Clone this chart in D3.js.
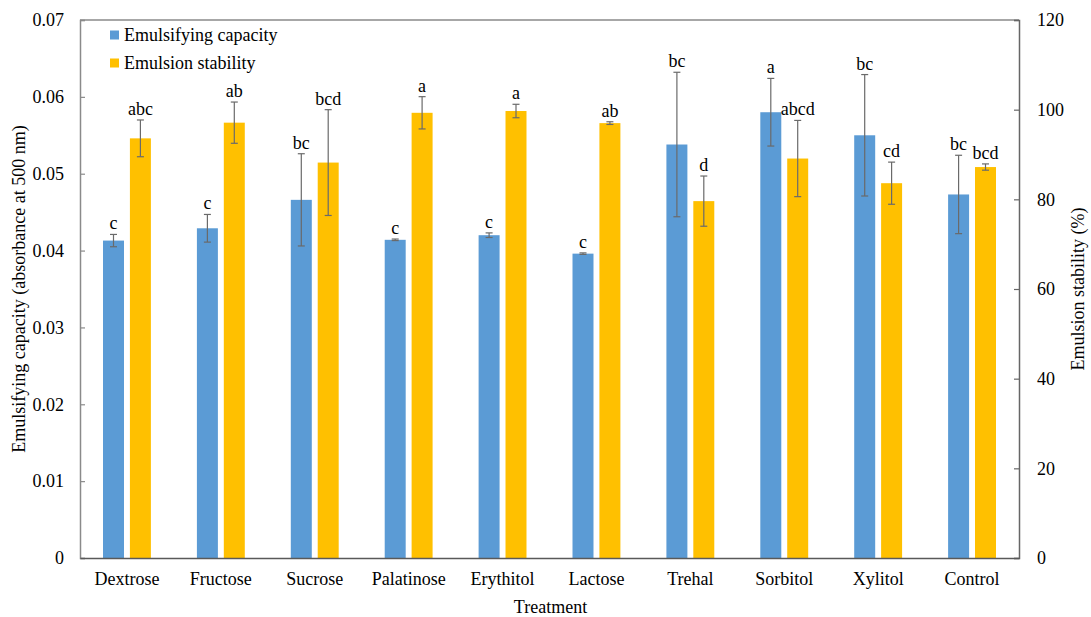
<!DOCTYPE html>
<html>
<head>
<meta charset="utf-8">
<script src="https://cdn.jsdelivr.net/npm/d3@7"></script>
<style>
  body { margin: 0; background: #fff; }
  text { font-family: "Liberation Serif", "Times New Roman", serif; fill: #000; }
</style>
</head>
<body>
<div id="chart"></div>
<script>
var categories = ['Dextrose', 'Fructose', 'Sucrose', 'Palatinose', 'Erythitol', 'Lactose', 'Trehal', 'Sorbitol', 'Xylitol', 'Control'];
var capacity = [0.0413, 0.0429, 0.0466, 0.0414, 0.0420, 0.0396, 0.0538, 0.0580, 0.0550, 0.0473];
var capacityErr = [0.0008, 0.0018, 0.0060, 0.0001, 0.0003, 0.0001, 0.0094, 0.0044, 0.0079, 0.0051];
var stability = [93.6, 97.1, 88.2, 99.3, 99.7, 97.0, 79.6, 89.1, 83.6, 87.2];
var stabilityErr = [4.1, 4.6, 11.8, 3.6, 1.5, 0.3, 5.6, 8.5, 4.7, 0.7];
var capLetters = ['c', 'c', 'bc', 'c', 'c', 'c', 'bc', 'a', 'bc', 'bc'];
var stabLetters = ['abc', 'ab', 'bcd', 'a', 'a', 'ab', 'd', 'abcd', 'cd', 'bcd'];
var leftTicks = [0, 0.01, 0.02, 0.03, 0.04, 0.05, 0.06, 0.07];
var rightTicks = [0, 20, 40, 60, 80, 100, 120];
var seriesNames = ['Emulsifying capacity', 'Emulsion stability'];

var width = 1091, height = 617;
var margin = {top: 20, right: 72, bottom: 59, left: 80};
var blue = '#5b9bd5', orange = '#ffc000';
var serif = '"Liberation Serif", "Times New Roman", serif';

function init() {
    var svg = d3.select('#chart').append('svg')
        .attr('width', width)
        .attr('height', height);

    var x = d3.scaleBand()
        .domain(categories)
        .range([margin.left, width - margin.right]);
    var bw = x.bandwidth();
    var inner = d3.scaleBand()
        .domain(['cap', 'stab'])
        .range([bw * 0.245, bw * 0.755])
        .paddingInner(0.22);

    var yL = d3.scaleLinear().domain([0, 0.07]).range([height - margin.bottom, margin.top]);
    var yR = d3.scaleLinear().domain([0, 120]).range([height - margin.bottom, margin.top]);

    // rows for both series
    var rows = categories.map(function (c, i) {
        return [
            {cat: c, key: 'cap', v: capacity[i], e: capacityErr[i], lab: capLetters[i], y: yL, color: blue},
            {cat: c, key: 'stab', v: stability[i], e: stabilityErr[i], lab: stabLetters[i], y: yR, color: orange}
        ];
    });
    var flat = d3.merge(rows);

    svg.append('g').selectAll('rect')
        .data(flat).enter().append('rect')
        .attr('x', function (d) { return x(d.cat) + inner(d.key); })
        .attr('y', function (d) { return d.y(d.v); })
        .attr('width', inner.bandwidth())
        .attr('height', function (d) { return d.y(0) - d.y(d.v); })
        .attr('fill', function (d) { return d.color; });

    // error bars
    var eb = svg.append('g').attr('stroke', '#6a6a6a').attr('stroke-width', 1.2);
    flat.forEach(function (d) {
        var cx = x(d.cat) + inner(d.key) + inner.bandwidth() / 2;
        var y1 = d.y(d.v + d.e), y2 = d.y(d.v - d.e);
        eb.append('line').attr('x1', cx).attr('x2', cx).attr('y1', y1).attr('y2', y2);
        eb.append('line').attr('x1', cx - 3.5).attr('x2', cx + 3.5).attr('y1', y1).attr('y2', y1);
        eb.append('line').attr('x1', cx - 3.5).attr('x2', cx + 3.5).attr('y1', y2).attr('y2', y2);
    });

    // significance letters
    svg.append('g').selectAll('text')
        .data(flat).enter().append('text')
        .attr('x', function (d) { return x(d.cat) + inner(d.key) + inner.bandwidth() / 2; })
        .attr('y', function (d) { return d.y(d.v + d.e) - 5; })
        .attr('text-anchor', 'middle')
        .style('font-size', '18px')
        .text(function (d) { return d.lab; });

    // frame
    var x0 = margin.left, x1 = width - margin.right, yb = height - margin.bottom, yt = margin.top;
    svg.append('line').attr('x1', x0).attr('x2', x1).attr('y1', yt).attr('y2', yt)
        .attr('stroke', '#8a8a8a').attr('stroke-width', 1.5);

    var axL = svg.append('g').attr('transform', 'translate(' + x0 + ',0)')
        .call(d3.axisRight(yL).tickValues(leftTicks).tickSize(5).tickFormat(function (d) { return d === 0 ? '0' : d3.format('.2f')(d); }));
    axL.select('.domain').attr('stroke', '#8a8a8a').attr('stroke-width', 1.5);
    axL.selectAll('.tick line').attr('stroke', '#8a8a8a').attr('stroke-width', 1.2);
    axL.selectAll('.tick text').attr('x', -16).attr('text-anchor', 'end');

    var axR = svg.append('g').attr('transform', 'translate(' + x1 + ',0)')
        .call(d3.axisLeft(yR).tickValues(rightTicks).tickSize(5));
    axR.select('.domain').attr('stroke', '#666').attr('stroke-width', 1.5);
    axR.selectAll('.tick line').attr('stroke', '#666').attr('stroke-width', 1.2);
    axR.selectAll('.tick text').attr('x', 18).attr('text-anchor', 'start');

    var axB = svg.append('g').attr('transform', 'translate(0,' + yb + ')')
        .call(d3.axisBottom(x).tickSize(0).tickPadding(14));
    axB.select('.domain').attr('stroke', '#595959').attr('stroke-width', 1.5);
    svg.selectAll('.tick text').attr('fill', '#000')
        .style('font-family', serif).style('font-size', '18px');

    // axis titles
    svg.append('text')
        .attr('transform', 'translate(25,' + ((yt + yb) / 2) + ') rotate(-90)')
        .attr('text-anchor', 'middle')
        .style('font-size', '18px')
        .text('Emulsifying capacity (absorbance at 500 nm)');
    svg.append('text')
        .attr('transform', 'translate(1084,' + ((yt + yb) / 2) + ') rotate(-90)')
        .attr('text-anchor', 'middle')
        .style('font-size', '18px')
        .text('Emulsion stability (%)');
    svg.append('text')
        .attr('x', (x0 + x1) / 2 + 1)
        .attr('y', 613)
        .attr('text-anchor', 'middle')
        .style('font-size', '18px')
        .text('Treatment');

    // legend
    var lg = svg.append('g').attr('transform', 'translate(110,35)');
    seriesNames.forEach(function (s, i) {
        lg.append('rect').attr('x', 0).attr('y', i * 28 - 4.5).attr('width', 9).attr('height', 9)
            .attr('fill', i === 0 ? blue : orange);
        lg.append('text').attr('x', 14).attr('y', i * 28 + 6)
            .style('font-family', serif)
            .style('font-size', '18px').text(s);
    });
}

window.onload = init;
</script>
</body>
</html>
